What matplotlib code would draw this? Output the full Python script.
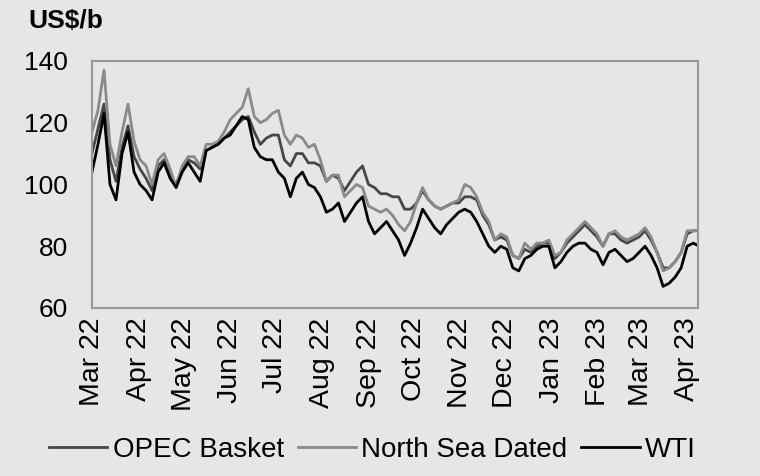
import pandas as pd
import matplotlib
matplotlib.use("Agg")
import matplotlib.pyplot as plt

plt.rcParams['font.family'] = ['Liberation Sans', 'DejaVu Sans']

# price samples every 4 days from 1 Mar 2022 (US$/b)
north_sea = [117, 124, 137, 113, 106, 117, 126, 114, 108, 106, 100, 108, 110, 105, 99, 106,
             109, 109, 106, 113, 113, 114, 117, 121, 123, 125, 131, 122, 120, 121, 123, 124,
             116, 113, 116, 115, 112, 113, 108, 101, 103, 103, 96, 98, 100, 99, 93, 92,
             91, 92, 90, 87, 85, 88, 94, 99, 95, 93, 92, 93, 94, 95, 100, 99, 96, 91,
             88, 82, 84, 83, 77, 76, 81, 79, 81, 81, 82, 77, 78, 82, 84, 86, 88, 86,
             84, 80, 84, 85, 83, 82, 83, 84, 86, 83, 78, 72, 73, 75, 78, 85, 85, 85]
opec = [110, 118, 126, 108, 101, 112, 119, 109, 105, 102, 98, 106, 108, 103, 100, 105,
        108, 107, 105, 111, 112, 113, 115, 117, 119, 121, 122, 117, 113, 115, 116, 116,
        108, 106, 110, 110, 107, 107, 106, 101, 103, 102, 98, 101, 104, 106, 100, 99,
        97, 97, 96, 96, 92, 92, 94, 98, 95, 93, 92, 93, 94, 94, 96, 96, 95, 90,
        87, 82, 83, 82, 77, 76, 79, 78, 80, 81, 81, 76, 78, 81, 83, 85, 87, 85,
        83, 80, 84, 84, 82, 81, 82, 83, 85, 82, 78, 73, 73, 75, 78, 84, 85, 85]
wti = [104, 113, 123, 100, 95, 110, 117, 104, 100, 98, 95, 104, 107, 102, 99, 104,
       107, 104, 101, 111, 112, 113, 115, 116, 119, 122, 121, 112, 109, 108, 108, 104,
       102, 96, 102, 104, 100, 99, 96, 91, 92, 94, 88, 91, 94, 96, 88, 84,
       86, 88, 85, 82, 77, 81, 86, 92, 89, 86, 84, 87, 89, 91, 92, 91, 88, 84,
       80, 78, 80, 79, 73, 72, 76, 77, 79, 80, 80, 73, 75, 78, 80, 81, 81, 79,
       78, 74, 78, 79, 77, 75, 76, 78, 80, 77, 73, 67, 68, 70, 73, 80, 81, 80]
dates = pd.date_range('2022-03-01', periods=len(wti), freq='4D')

month_ticks = pd.date_range('2022-03-01', '2023-04-01', freq='MS')
tick_labels = [d.strftime('%b %y') for d in month_ticks]

bg = '#e6e6e6'
fig = plt.figure(figsize=(7.6, 4.76), dpi=100, facecolor=bg)
ax = fig.add_axes([0.121, 0.353, 0.797, 0.519], facecolor=bg)

ax.plot(dates, opec, color='#474747', lw=2, label='OPEC Basket')
ax.plot(dates, north_sea, color='#8a8a8a', lw=2, label='North Sea Dated')
ax.plot(dates, wti, color='#000000', lw=2, label='WTI')

ax.set_ylim(60, 140)
ax.set_yticks([60, 80, 100, 120, 140])
ax.set_xlim(pd.Timestamp('2022-03-01'), pd.Timestamp('2023-04-08'))
ax.set_xticks(month_ticks)
ax.set_xticklabels(tick_labels, rotation=90)
ax.tick_params(axis='y', length=0, pad=17, labelsize=19)
ax.tick_params(axis='x', length=0, pad=7, labelsize=20.5)
for s in ax.spines.values():
    s.set_color('#999999')
    s.set_linewidth(1.5)

fig.text(0.037, 0.955, 'US$/b', fontsize=19, fontweight='bold', va='center', ha='left')

fig.legend(loc='center', bbox_to_anchor=(0.49, 0.055), ncol=3, frameon=False,
           fontsize=20, handlelength=2.1, handletextpad=0.2, columnspacing=0.5)

fig.savefig('out.png', dpi=100, facecolor=bg)
